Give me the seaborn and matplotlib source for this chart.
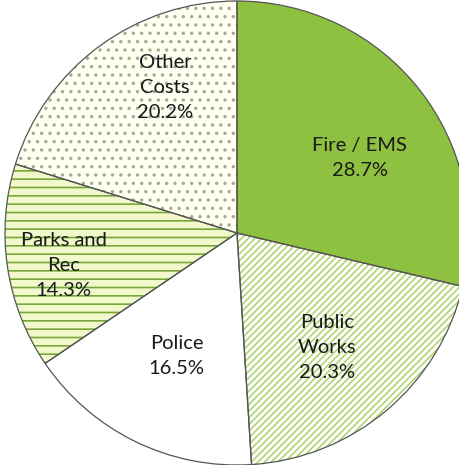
import matplotlib
matplotlib.use("Agg")
import matplotlib.pyplot as plt
import matplotlib.transforms as mtransforms
import seaborn as sns
import numpy as np

categories = ["Fire / EMS", "Public\nWorks", "Police", "Parks and\nRec", "Other\nCosts"]
values = [28.7, 20.3, 16.5, 14.3, 20.2]

sns.set_theme(style="white")
plt.rcParams['font.family'] = ['Lato', 'DejaVu Sans']
plt.rcParams['hatch.linewidth'] = 1.2

faces = ["#8dc13f", "#ffffff", "#ffffff", "#f1f8cc", "#fffff2"]
hatch_cols = ["#8dc13f", "#b0d372", "#ffffff", "#79a83a", "#a8a890"]
hatches = [None, "/////", None, "--", ".."]
label_r = [0.62, 0.63, 0.59, 0.76, 0.70]
label_dang = [-7, -2, 0, 2, -10]

W, H = 459, 465
fig = plt.figure(figsize=(W / 100, H / 100), dpi=100)
ax = fig.add_axes([0, 0, 1, 1])
cx, cy, R = 237, 233, 232

wedges, _ = ax.pie(values, startangle=90, counterclock=False, radius=R,
                   center=(cx, H - cy), colors=faces,
                   wedgeprops=dict(linewidth=0.0))
for w, hc, h in zip(wedges, hatch_cols, hatches):
    w.set_edgecolor(hc)
    if h:
        w.set_hatch(h)
wedges2, _ = ax.pie(values, startangle=90, counterclock=False, radius=R,
                    center=(cx, H - cy), colors=["none"] * len(values),
                    wedgeprops=dict(linewidth=0.9, edgecolor="#555555", fill=False))
for w in wedges2:
    w.set_facecolor("none")

line_px = 25
for w, lab, v, lr, da in zip(wedges, categories, values, label_r, label_dang):
    ang = np.deg2rad((w.theta1 + w.theta2) / 2 + da)
    x = cx + lr * R * np.cos(ang)
    y = H - cy + lr * R * np.sin(ang)
    lines = lab.split("\n") + [f"{v:.1f}%"]
    n = len(lines)
    for i, s in enumerate(lines):
        dy = ((n - 1) / 2 - i) * line_px
        tr = mtransforms.offset_copy(ax.transData, fig=fig, y=dy, units="dots")
        ax.text(x, y, s, ha="center", va="center", fontsize=14.5,
                color="#1a1a1a", transform=tr)

ax.set_xlim(0, W)
ax.set_ylim(0, H)
ax.set_aspect("equal")
ax.axis("off")
fig.savefig("out.png", dpi=100)
